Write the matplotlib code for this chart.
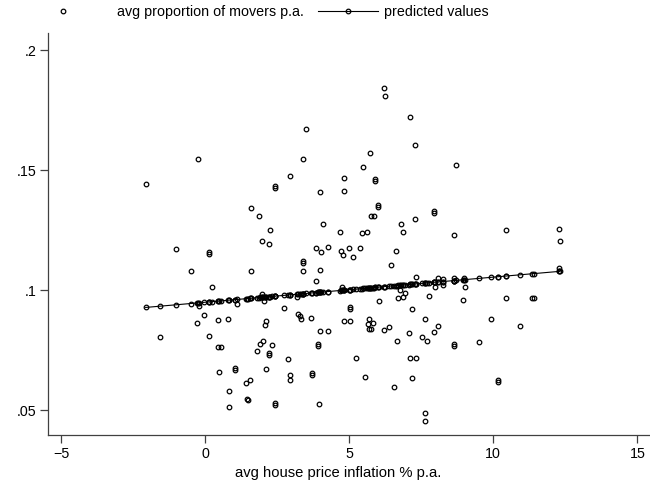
import numpy as np
import matplotlib.pyplot as plt

plt.rcParams['font.family'] = ['Liberation Sans', 'DejaVu Sans']

# avg house price inflation % p.a. (x) and avg proportion of movers p.a. (y)
house_infl = [
    -0.24, -2.07, 2.41, 2.41, 1.59, 1.86, 2.26, 1.97, 2.21, -1.02,
    0.12, 0.12, 6.19, 6.24, 7.11, 3.49, 7.27, 5.73, 3.38, 5.48,
    2.93, 4.82, 5.88, 5.88, 3.99, 4.82, 5.99, 5.99, 5.76, 5.86,
    7.93, 7.93, 7.27, 6.80, 6.86, 4.10, 4.67, 5.43, 5.63, 3.84,
    4.01, 4.25, 4.70, 4.77, 5.00, 5.14, 5.37, 6.61, 8.69, 8.64,
    10.44, 12.27, 12.32, -0.51, 1.59, 0.22, 1.11, -0.21, 2.03, -0.05,
    -0.30, 0.44, 0.79, 2.10, 2.06, -1.57, 0.12, 0.45, 0.53, 2.01,
    1.90, 2.31, 1.80, 2.21, 2.21, 1.03, 1.03, 0.48, 2.10, 1.54,
    1.40, 0.82, 1.45, 1.49, 0.82, 2.41, 2.41, 3.38, 3.38, 3.38,
    3.99, 6.44, 3.84, 7.33, 6.77, 6.93, 6.70, 6.86, 6.03, 7.78,
    7.97, 8.24, 2.72, 5.01, 5.01, 7.17, 3.22, 3.29, 3.33, 3.66,
    4.83, 5.03, 5.67, 5.65, 5.81, 5.68, 5.75, 6.19, 6.38, 7.63,
    8.07, 7.93, 7.06, 7.52, 7.69, 6.65, 3.99, 4.25, 3.90, 3.90,
    2.87, 5.23, 7.11, 7.32, 2.93, 2.93, 3.69, 3.69, 5.53, 7.17,
    6.55, 3.95, 7.63, 7.63, 8.24, 9.01, 8.95, 10.44, 11.33, 11.43,
    9.92, 10.94, 8.64, 8.64, 9.51, 10.17, 10.17, 8.65, 8.97, 12.29,
    8.09, 4.74, 1.97, 3.17,
]
movers = [
    0.1546, 0.1440, 0.1434, 0.1426, 0.1343, 0.1310, 0.1249, 0.1204, 0.1192, 0.1171,
    0.1159, 0.1151, 0.1842, 0.1810, 0.1722, 0.1671, 0.1605, 0.1572, 0.1546, 0.1514,
    0.1474, 0.1467, 0.1461, 0.1453, 0.1407, 0.1414, 0.1355, 0.1347, 0.1310, 0.1310,
    0.1329, 0.1321, 0.1296, 0.1276, 0.1243, 0.1276, 0.1243, 0.1238, 0.1241, 0.1175,
    0.1157, 0.1178, 0.1164, 0.1146, 0.1175, 0.1139, 0.1176, 0.1164, 0.1520, 0.1230,
    0.1250, 0.1255, 0.1204, 0.1079, 0.1079, 0.1014, 0.0940, 0.0935, 0.0954, 0.0895,
    0.0863, 0.0876, 0.0878, 0.0871, 0.0855, 0.0803, 0.0810, 0.0763, 0.0763, 0.0789,
    0.0776, 0.0770, 0.0745, 0.0737, 0.0729, 0.0674, 0.0666, 0.0658, 0.0672, 0.0626,
    0.0614, 0.0579, 0.0544, 0.0540, 0.0514, 0.0528, 0.0520, 0.1119, 0.1111, 0.1080,
    0.1085, 0.1105, 0.1039, 0.1054, 0.1000, 0.0989, 0.0968, 0.0972, 0.0954, 0.0974,
    0.1014, 0.1021, 0.0926, 0.0928, 0.0920, 0.0921, 0.0899, 0.0893, 0.0880, 0.0885,
    0.0870, 0.0870, 0.0879, 0.0857, 0.0861, 0.0836, 0.0836, 0.0835, 0.0847, 0.0879,
    0.0849, 0.0824, 0.0822, 0.0803, 0.0789, 0.0789, 0.0830, 0.0830, 0.0775, 0.0767,
    0.0711, 0.0718, 0.0715, 0.0715, 0.0646, 0.0626, 0.0653, 0.0645, 0.0639, 0.0632,
    0.0595, 0.0526, 0.0488, 0.0454, 0.1045, 0.1014, 0.0960, 0.0967, 0.0967, 0.0967,
    0.0880, 0.0849, 0.0776, 0.0768, 0.0783, 0.0626, 0.0618, 0.1050, 0.1051, 0.1090,
    0.1049, 0.1012, 0.0982, 0.0972,
]

x_ticks = [-5, 0, 5, 10, 15]
y_ticks = [0.05, 0.1, 0.15, 0.2]
y_tick_labels = ['.05', '.1', '.15', '.2']

x = np.array(house_infl)
y = np.array(movers)

# linear prediction of movers on house price inflation
b1, b0 = np.polyfit(x, y, 1)
order = np.argsort(x)
x_sorted = x[order]
y_pred = b0 + b1 * x_sorted

fs = 10.3

fig = plt.figure(figsize=(6.5, 4.82), dpi=100)
ax = fig.add_axes([48 / 650, 1 - 435 / 482, 602 / 650, 402 / 482])

pts, = ax.plot(x, y, linestyle='none', marker='o', ms=3.3, mew=0.9,
               mfc='none', mec='black')
fit, = ax.plot(x_sorted, y_pred, color='black', lw=0.8, marker='o', ms=3.3,
               mew=0.9, mfc='none', mec='black')

ax.set_xlim(-5.46, 15.44)
ax.set_ylim(0.0396, 0.2071)
ax.set_xticks(x_ticks)
ax.set_yticks(y_ticks)
ax.set_yticklabels(y_tick_labels)

for side in ['top', 'right']:
    ax.spines[side].set_visible(False)
for side in ['left', 'bottom']:
    ax.spines[side].set_color('#404040')
    ax.spines[side].set_linewidth(0.9)
ax.tick_params(direction='out', length=5.5, width=0.9, color='#404040',
               labelsize=fs, pad=3)

ax.set_xlabel('avg house price inflation % p.a.', fontsize=10.6)
ax.xaxis.set_label_coords(0.482, -0.077)

# legend keys, each placed on its own like Stata's fixed-width keys
leg_kw = dict(loc='center left', bbox_transform=fig.transFigure, frameon=False,
              fontsize=fs, handlelength=4.2, borderpad=0, borderaxespad=0)
leg1 = fig.legend([pts], ['avg proportion of movers p.a.'],
                  bbox_to_anchor=(33 / 650, 1 - 12 / 482),
                  handletextpad=1.7, **leg_kw)
leg2 = fig.legend([fit], ['predicted values'],
                  bbox_to_anchor=(318 / 650, 1 - 12 / 482),
                  handletextpad=0.4, **leg_kw)

fig.savefig('out.png', dpi=100)
